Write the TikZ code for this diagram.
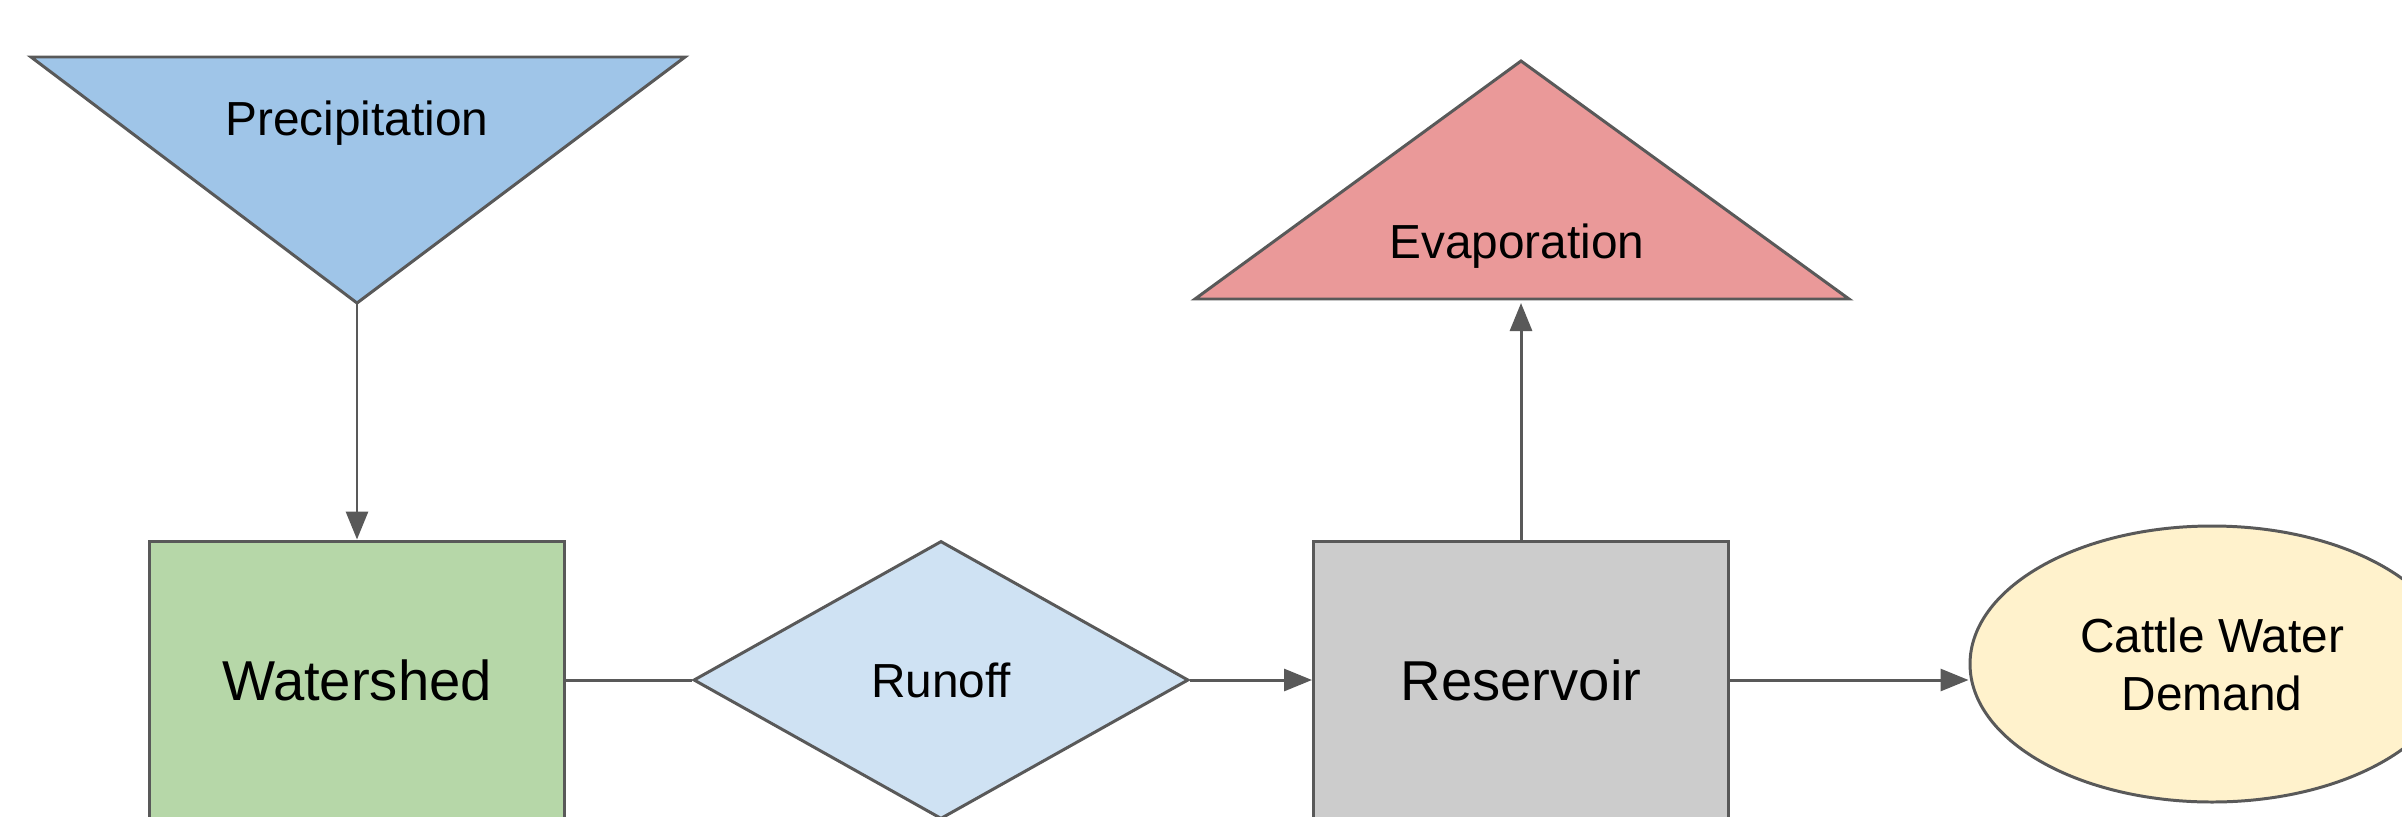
\documentclass[tikz,border=0pt]{standalone}
\usepackage{fontspec}
\setmainfont{Liberation Sans}
\usetikzlibrary{shapes.geometric,arrows.meta}
\definecolor{edgegray}{HTML}{595959}
\definecolor{precipblue}{HTML}{9FC5E8}
\definecolor{shedgreen}{HTML}{B6D7A8}
\definecolor{runoffblue}{HTML}{CFE2F3}
\definecolor{resgray}{HTML}{CCCCCC}
\definecolor{evapred}{HTML}{EA9999}
\definecolor{demandyellow}{HTML}{FFF2CC}
\begin{document}
\begin{tikzpicture}[
      every node/.style = {
        black, inner sep = 0pt, font = \fontsize{13.6}{16.5}\selectfont},
      shape line/.style = {draw = edgegray, line width = .85pt, line join = miter},
      store/.style = {shape line, rectangle, minimum width = 4.15cm,
        minimum height = 2.78cm, font = \fontsize{16}{19}\selectfont},
      flow/.style = {edgegray, line width = .85pt},
      arrow/.style = {flow, -{Triangle[length = 2.8mm, width = 2.2mm]}}
      ]
    \useasboundingbox (0,0) rectangle (24.02,8.16);
    \draw[shape line, fill = precipblue] (0.31,7.59) -- (6.85,7.59)
      -- (3.57,5.13) coordinate (precip tip) -- cycle;
    \draw[shape line, fill = evapred] (11.95,5.17) -- (15.21,7.55)
      -- (18.49,5.17) -- cycle;
    \coordinate (evap base) at (15.21,5.13);
    \node (precip) at (3.57,6.93) {Precipitation}; % 0
    \node (evap) at (15.17,5.70) {Evaporation}; % 1
    \node[store, fill = shedgreen] (shed) at (3.57,1.36) {Watershed}; % 2
    \node[shape line, diamond, fill = runoffblue, minimum width = 4.95cm,
      minimum height = 2.78cm] (runoff) at (9.41,1.36) {Runoff}; % 3
    \node[store, fill = resgray] (res) at (15.21,1.36) {Reservoir}; % 4
    \node[shape line, ellipse, fill = demandyellow, minimum width = 4.84cm,
      minimum height = 2.76cm, align = center] (demand) at (22.12,1.52)
      {Cattle Water\\Demand}; % 5
    \draw[arrow] (precip tip) -- (shed.north);
    \draw[flow] (shed) -- (runoff);
    \draw[arrow] (runoff) -- (res);
    \draw[arrow] (res.north) -- (res.north |- evap base);
    \draw[arrow] (res.east) -- (res.east -| demand.west);
  \end{tikzpicture}
\end{document}
